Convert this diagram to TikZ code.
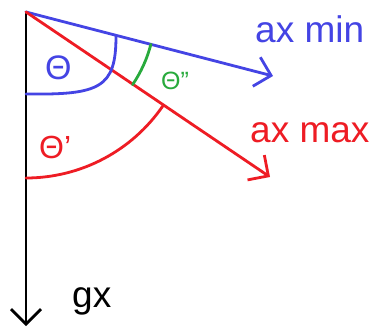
\documentclass[tikz,border=0pt]{standalone}
\usepackage{fontspec}
\setmainfont{Liberation Sans}
\usetikzlibrary{arrows.meta,calc}
\definecolor{cblue}{RGB}{68,68,228}
\definecolor{cred}{RGB}{238,28,36}
\definecolor{cgreen}{RGB}{40,170,60}
\tikzset{
  ln/.style={line width=2.8pt, line cap=round},
  tip/.style={-{Straight Barb[length=15pt,width=30pt,line width=2.8pt]}},
  lbl/.style={inner sep=0pt, anchor=base west},
}
\begin{document}
\begin{tikzpicture}[x=1pt,y=1pt]
\useasboundingbox[fill=white] (0,0) rectangle (373,-329);
\coordinate (O) at (26,-12);
\coordinate (G) at (26,-326);
\coordinate (Amin) at (273,-76);
\coordinate (Amax) at (270,-177);
% axes
\draw[ln,tip,black] (O) -- (G);
\draw[ln,tip,cblue] (O) -- (Amin);
\draw[ln,tip,cred] (O) -- (Amax);
% angles
\draw[ln,cblue] (26,-94) .. controls (100,-95) and (116,-88) .. (116,-36);
\draw[ln,cred] ($(O)+(-90:166)$) arc[start angle=-90,end angle=-34.3,radius=166];
\draw[ln,cgreen] ($(O)+(-14.5:129)$) arc[start angle=-14.5,end angle=-34.3,radius=129];
% labels
\node[lbl,text=cblue,font=\fontsize{37}{37}\selectfont] (lmin) at (255,-43) {ax min};
\node[lbl,text=cred,font=\fontsize{37}{37}\selectfont] (lmax) at (250,-143) {ax max};
\node[lbl,text=black,font=\fontsize{37}{37}\selectfont] (lgx) at (72,-307) {gx};
\node[lbl,text=cblue,font=\fontsize{34}{34}\selectfont] (th) at (45,-80) {Θ};
\node[lbl,text=cred,font=\fontsize{32}{32}\selectfont] (thp) at (39,-159) {Θ\symbol{"27}};
\node[lbl,text=cgreen,font=\fontsize{25}{25}\selectfont] (thpp) at (161,-90) {Θ\symbol{"22}};
\end{tikzpicture}
\end{document}
